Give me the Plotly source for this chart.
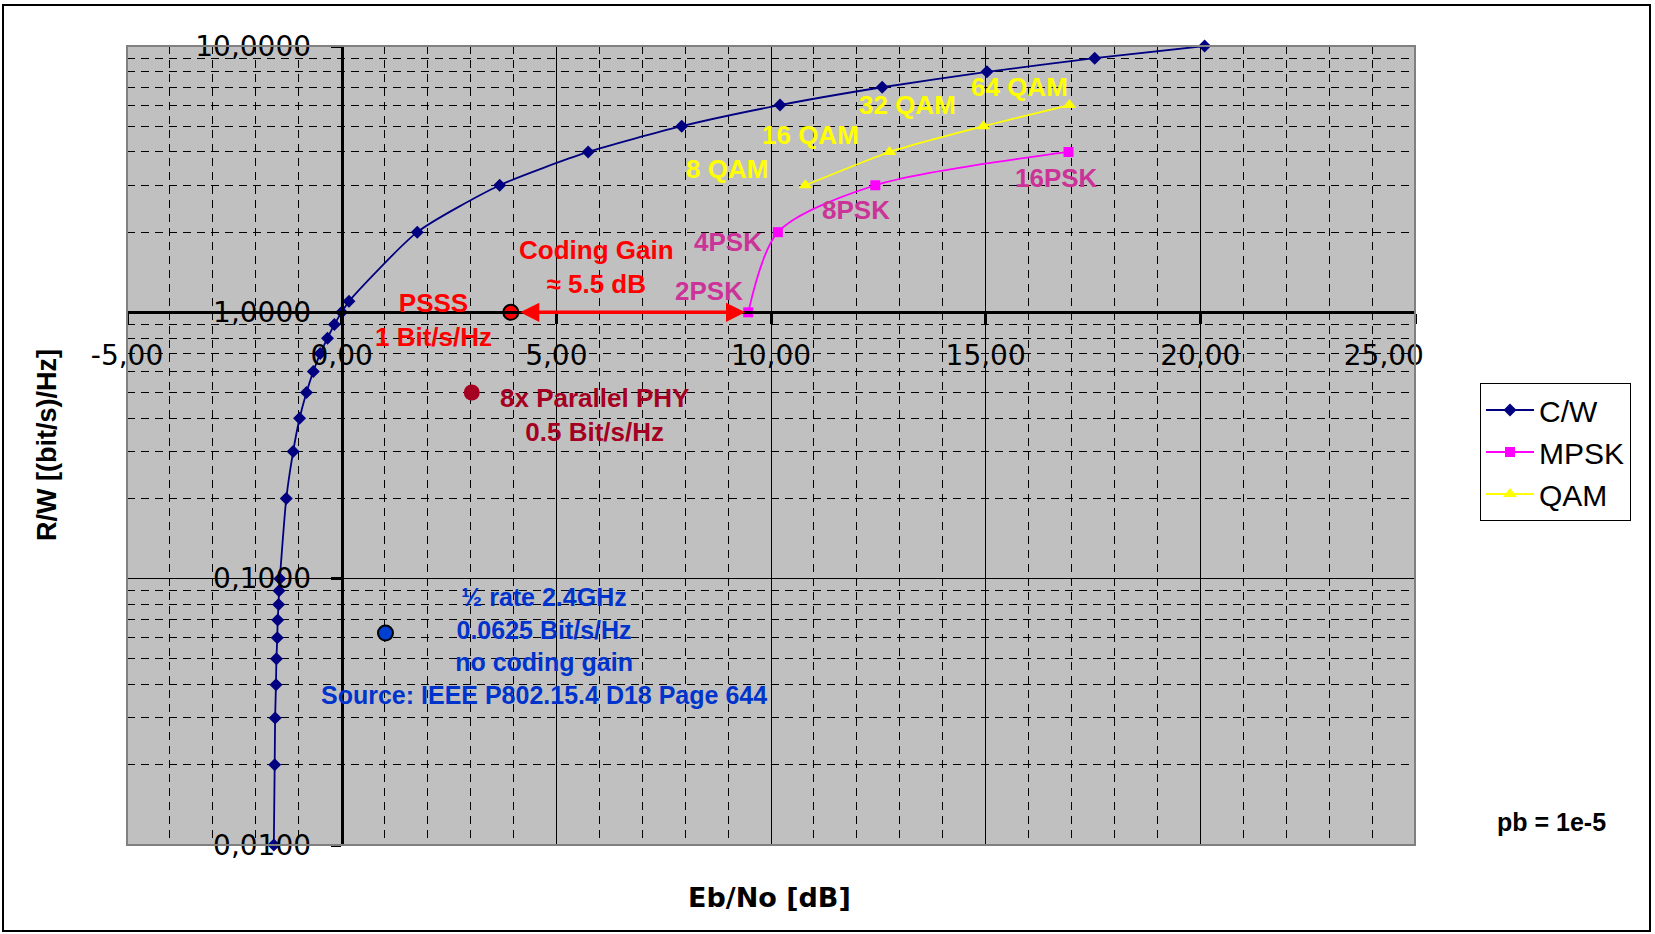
import math
import plotly.graph_objects as go

# ---------------- data ----------------
cw_x = [-1.58, -1.56, -1.55, -1.53, -1.52, -1.50, -1.49, -1.47, -1.46,
        -1.44, -1.29, -1.13, -0.98, -0.82, -0.66, -0.50, -0.33, -0.17,
        0.00, 0.17, 1.76, 3.68, 5.74, 7.92, 10.21, 12.59, 15.03, 17.54, 20.10]
cw_y = [0.01, 0.02, 0.03, 0.04, 0.05, 0.06, 0.07, 0.08, 0.09,
        0.1, 0.2, 0.3, 0.4, 0.5, 0.6, 0.7, 0.8, 0.9,
        1.0, 1.1, 2, 3, 4, 5, 6, 7, 8, 9, 10]

mpsk_x = [9.47, 10.16, 12.43, 16.93]
mpsk_y = [1, 2, 3, 4]
mpsk_labels = ["2PSK", "4PSK", "8PSK", "16PSK"]

qam_x = [10.80, 12.76, 14.95, 16.95]
qam_y = [3, 4, 5, 6]
qam_labels = ["8 QAM", "16 QAM", "32 QAM", "64 QAM"]

psss_x = [3.94]
psss_y = [1.0]
par_x = [3.03]
par_y = [0.5]
ieee_x = [1.02]
ieee_y = [0.0625]

x_ticks = [-5, 0, 5, 10, 15, 20, 25]
x_ticktext = ["-5,00", "0,00", "5,00", "10,00", "15,00", "20,00",
              "25,00\u00a0\u00a0\u00a0\u00a0\u00a0\u00a0\u00a0"]
x_minor = [v for v in range(-4, 25) if v % 5 != 0]
y_ticks = [0.01, 0.1, 1, 10]
y_ticktext = ["0,0100", "0,1000", "1,0000", "10,0000"]
y_minor = [m * d for d in (0.01, 0.1, 1) for m in range(2, 10)]

# ---------------- figure ----------------
W, H = 1655, 934
L, R, T, B = 127, 240, 46, 89
pw, ph = W - L - R, H - T - B

def px(xp):
    return (xp - L) / pw

def py(yp):
    return (H - B - yp) / ph

fig = go.Figure()

# empty trace that only hosts the dashed minor grid axis
fig.add_trace(go.Scatter(x=[], y=[], yaxis="y2", showlegend=False, hoverinfo="skip"))

fig.add_trace(go.Scatter(
    x=cw_x, y=cw_y, name="C/W", mode="lines+markers", cliponaxis=False,
    line=dict(color="#000080", width=1.8, shape="spline", smoothing=0.6),
    marker=dict(symbol="diamond", size=10, color="#000080")))
fig.add_trace(go.Scatter(
    x=mpsk_x, y=mpsk_y, name="MPSK", mode="lines+markers", cliponaxis=False,
    line=dict(color="#FF00FF", width=1.8, shape="spline", smoothing=0.8),
    marker=dict(symbol="square", size=10, color="#FF00FF")))
fig.add_trace(go.Scatter(
    x=qam_x, y=qam_y, name="QAM", mode="lines+markers", cliponaxis=False,
    line=dict(color="#FFFF00", width=1.8, shape="spline", smoothing=0.5),
    marker=dict(symbol="triangle-up", size=12, color="#FFFF00")))

fig.add_trace(go.Scatter(
    x=psss_x, y=psss_y, mode="markers", showlegend=False,
    marker=dict(size=15, color="#FF0000", line=dict(color="black", width=2))))
fig.add_trace(go.Scatter(
    x=par_x, y=par_y, mode="markers", showlegend=False,
    marker=dict(size=16, color="#A50021")))
fig.add_trace(go.Scatter(
    x=ieee_x, y=ieee_y, mode="markers", showlegend=False,
    marker=dict(size=15, color="#0040D0", line=dict(color="black", width=2))))

tickfont = dict(family="DejaVu Sans", size=28, color="black")

fig.update_layout(
    xaxis=dict(
        type="linear", range=[-5, 25], anchor="free", position=2/3,
        tickmode="array", tickvals=x_ticks, ticktext=x_ticktext,
        ticks="outside", ticklen=10, tickwidth=3, tickcolor="black",
        ticklabelstandoff=7,
        showline=True, linecolor="black", linewidth=3,
        showgrid=True, gridcolor="black", gridwidth=1,
        minor=dict(tickmode="array", tickvals=x_minor, showgrid=True, gridcolor="black",
                   gridwidth=1, griddash="8px,6px", ticks=""),
        zeroline=False, tickfont=tickfont, automargin=False),
    yaxis=dict(
        type="log", range=[-2, 1], anchor="free", position=1/6,
        tickmode="array", tickvals=y_ticks, ticktext=y_ticktext,
        ticks="outside", ticklen=10, tickwidth=3, tickcolor="black",
        ticklabelstandoff=14,
        showline=True, linecolor="black", linewidth=3,
        showgrid=True, gridcolor="black", gridwidth=1,
        zeroline=False, tickfont=tickfont, automargin=False),
    yaxis2=dict(
        type="log", range=[-2, 1], overlaying="y", anchor="x", side="left",
        tickmode="array", tickvals=y_minor, showticklabels=False, ticks="",
        showline=False, showgrid=True, gridcolor="black", gridwidth=1,
        griddash="8px,6px", zeroline=False, automargin=False),
)

annots = []

def txt(text, x, ylog, color, size=26, xanchor="center"):
    annots.append(dict(text="<b>" + text + "</b>", x=x, y=ylog, xref="x", yref="y",
                       showarrow=False, xanchor=xanchor, yanchor="middle",
                       font=dict(family="Liberation Sans", size=size, color=color)))

txt("PSSS<br>1 Bit/s/Hz", 2.14, -0.030, "#FF0000")
txt("Coding Gain<br>≈ 5.5 dB", 5.93, 0.169, "#FF0000")
psk_pos = [(8.56, 0.080), (9.00, 0.264), (11.98, 0.385), (16.64, 0.505)]
for lab, (xx, yy) in zip(mpsk_labels, psk_pos):
    txt(lab, xx, yy, "#CC3399")
qam_pos = [(8.98, 0.539), (10.93, 0.666), (13.19, 0.779), (15.78, 0.846)]
for lab, (xx, yy) in zip(qam_labels, qam_pos):
    txt(lab, xx, yy, "#FFFF00")
txt("8x Parallel PHY<br>0.5 Bit/s/Hz", 5.88, -0.385, "#A50021")
txt("½ rate 2.4GHz<br>0.0625 Bit/s/Hz<br>no coding gain<br>Source: IEEE P802.15.4 D18 Page 644",
    4.71, -1.251, "#0033CC", size=25)

# double-headed coding gain arrow
annots.append(dict(x=9.40, y=0, ax=4.12, ay=0, xref="x", yref="y", axref="x", ayref="y",
                   text="", showarrow=True, arrowhead=2, arrowside="end+start",
                   arrowsize=1.1, arrowwidth=3.5, arrowcolor="#FF0000",
                   standoff=0, startstandoff=0))

# axis titles & note
annots.append(dict(text="<b>Eb/No [dB]</b>", x=px(769), y=py(897), xref="paper", yref="paper",
                   showarrow=False, xanchor="center", yanchor="middle",
                   font=dict(family="DejaVu Sans", size=27, color="black")))
annots.append(dict(text="<b>R/W [(bit/s)/Hz]</b>", x=px(47), y=py(445), xref="paper", yref="paper",
                   showarrow=False, xanchor="center", yanchor="middle", textangle=-90,
                   font=dict(family="Liberation Sans", size=27, color="black")))
annots.append(dict(text="<b>pb = 1e-5</b>", x=px(1608), y=py(822), xref="paper", yref="paper",
                   showarrow=False, xanchor="right", yanchor="middle",
                   font=dict(family="Liberation Sans", size=25, color="black")))

shapes = [
    dict(type="rect", xref="paper", yref="paper", x0=0, x1=1, y0=0, y1=1,
         line=dict(color="#808080", width=2), layer="above"),
    dict(type="rect", xref="paper", yref="paper", x0=px(3), x1=px(1650), y0=py(931), y1=py(5),
         line=dict(color="black", width=2), layer="above"),
]

fig.update_layout(
    width=W, height=H,
    margin=dict(l=L, r=R, t=T, b=B, autoexpand=False),
    paper_bgcolor="white", plot_bgcolor="#C0C0C0",
    annotations=annots, shapes=shapes,
    legend=dict(x=px(1480), y=py(383), xanchor="left", yanchor="top",
                bgcolor="white", bordercolor="black", borderwidth=1,
                font=dict(family="Liberation Sans", size=30, color="black"),
                itemwidth=48, tracegroupgap=0),
)

fig.write_html("out.html", config={"displayModeBar": False},
               post_script="document.body.style.margin='0px';document.body.style.overflow='hidden';")
